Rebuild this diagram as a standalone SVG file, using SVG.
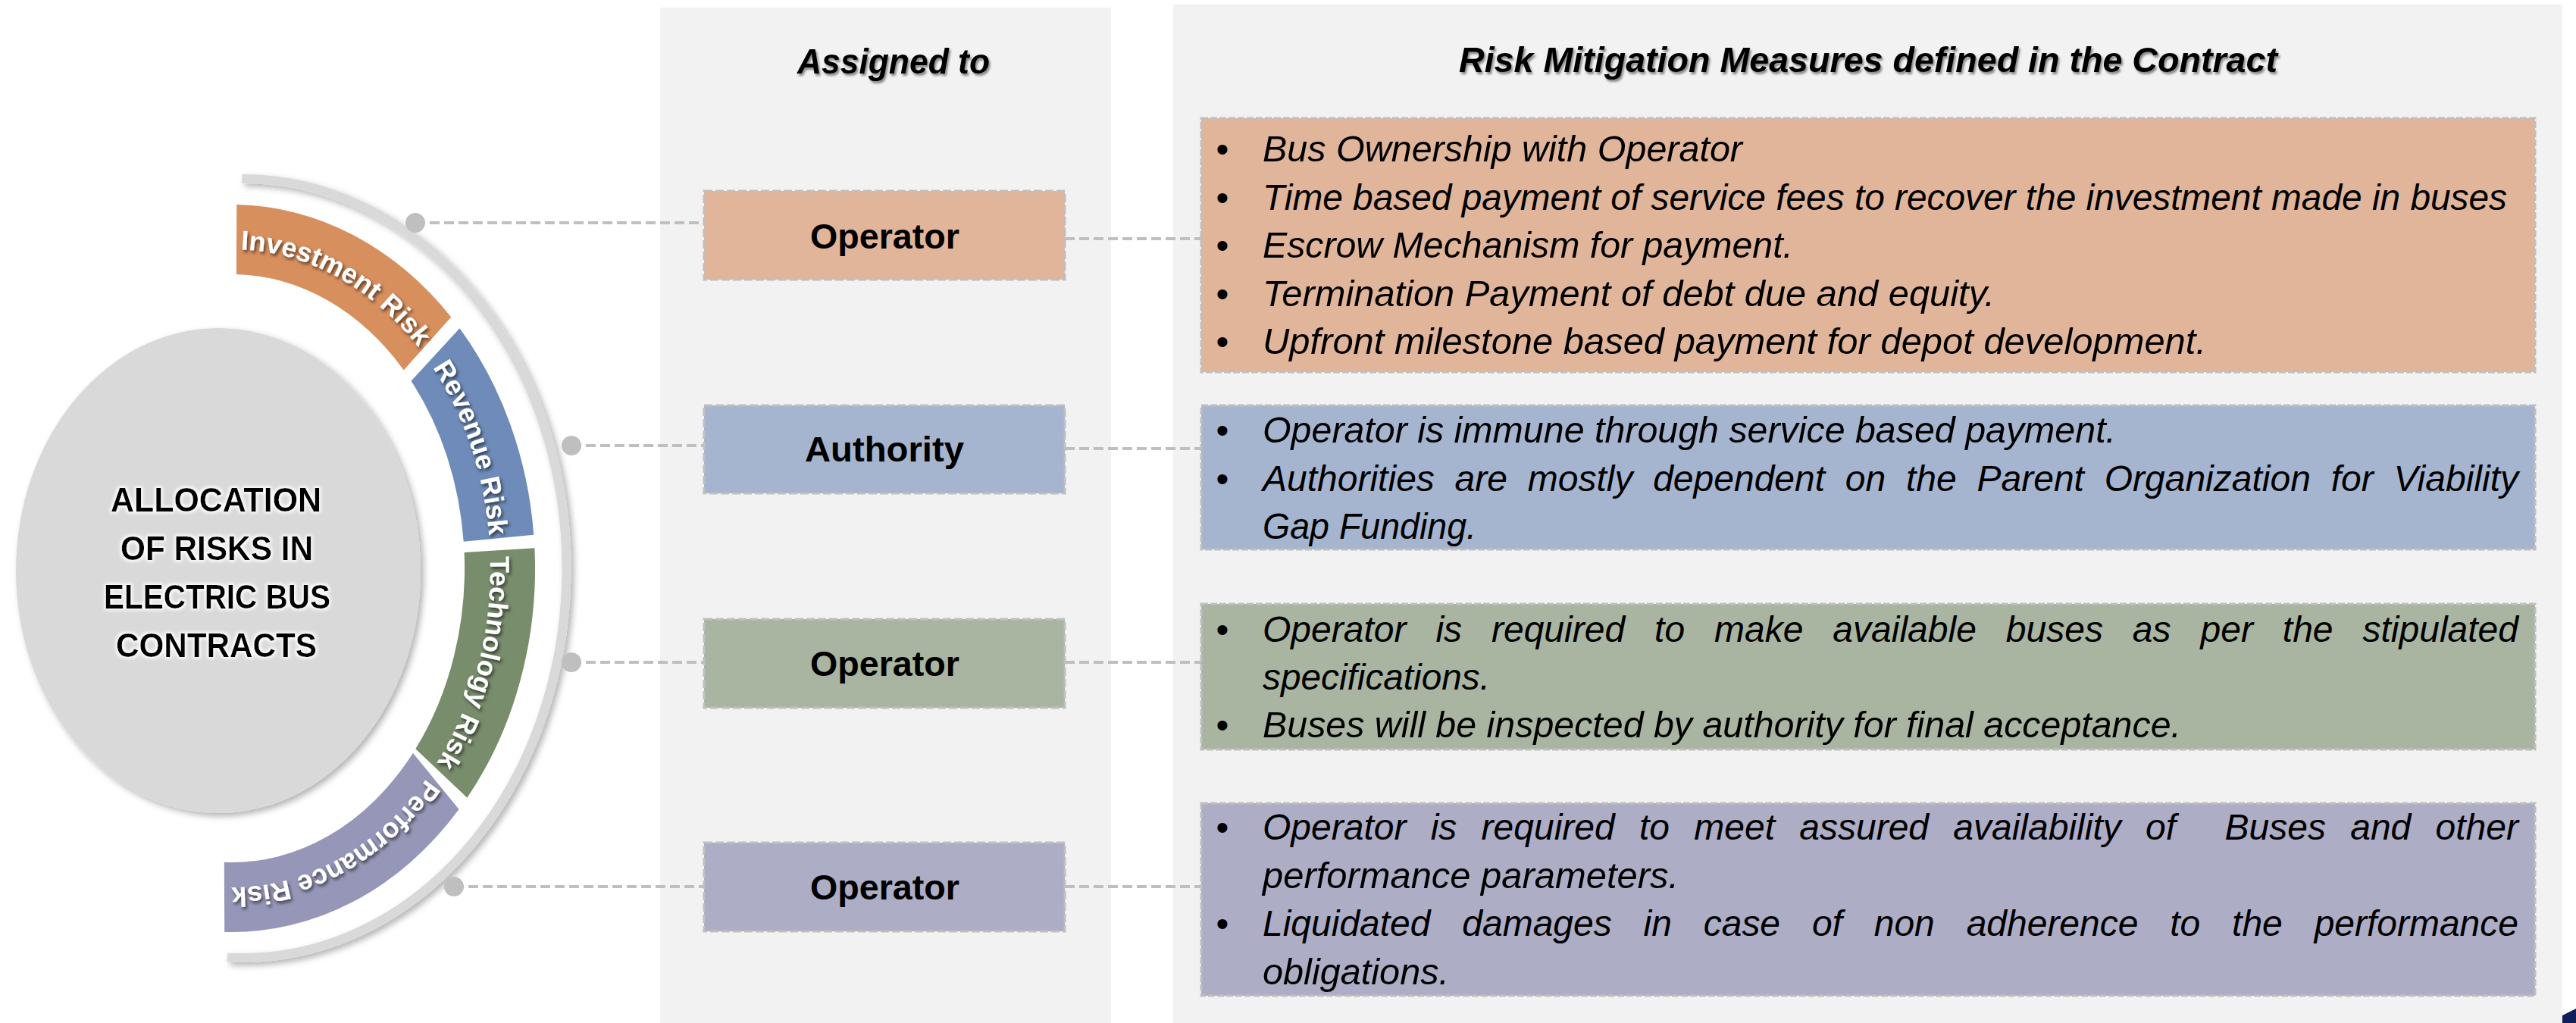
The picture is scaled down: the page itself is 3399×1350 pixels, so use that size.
<svg xmlns="http://www.w3.org/2000/svg" width="3399" height="1350" viewBox="0 0 3399 1350">
  <defs>
    <style>
      .panel { fill: #F2F2F2; }
      .abox { stroke: #BFBFBF; stroke-width: 3; stroke-dasharray: 11 4; }
      .mbox { stroke: #BFBFBF; stroke-width: 3; stroke-dasharray: 9 3; }
      .orange { fill: #E0B59A; }
      .blue { fill: #A5B4CF; }
      .green { fill: #A9B5A0; }
      .purple { fill: #ADADC6; }
      .lbl { font-family: "Liberation Sans", Arial, sans-serif; font-weight: bold; font-size: 47px; fill: #000; }
      .hdr { font-family: "Liberation Sans", Arial, sans-serif; font-weight: bold; font-style: italic; font-size: 46px; fill: #000; filter: url(#txtShadow); }
      .body { font-family: "Liberation Sans", Arial, sans-serif; font-style: italic; font-size: 48px; fill: #000; }
      .bul { font-family: "Liberation Sans", Arial, sans-serif; font-size: 48px; fill: #000; text-anchor: middle; }
      .conn { stroke: #BFBFBF; stroke-width: 4; stroke-dasharray: 13 6; fill: none; }
      .dot { fill: #BFBFBF; }
      .segtxt { font-family: "Liberation Sans", Arial, sans-serif; font-weight: bold; font-size: 36px; fill: #FFFFFF; filter: url(#segShadow); }
      .ctr { font-family: "Liberation Sans", Arial, sans-serif; font-weight: bold; font-size: 45px; fill: #000; filter: url(#glow); }
    </style>
    <filter id="softShadow" x="-15%" y="-15%" width="140%" height="140%">
      <feDropShadow dx="4" dy="4" stdDeviation="4" flood-color="#000" flood-opacity="0.3"/>
    </filter>
    <filter id="txtShadow" x="-5%" y="-30%" width="115%" height="170%">
      <feDropShadow dx="2" dy="3" stdDeviation="1.5" flood-color="#000" flood-opacity="0.45"/>
    </filter>
    <filter id="segShadow" x="-20%" y="-20%" width="140%" height="140%">
      <feDropShadow dx="2" dy="3" stdDeviation="2" flood-color="#000" flood-opacity="0.6"/>
    </filter>
    <filter id="glow" x="-10%" y="-30%" width="120%" height="160%">
      <feMorphology in="SourceAlpha" operator="dilate" radius="2" result="d"/>
      <feGaussianBlur in="d" stdDeviation="2" result="b"/>
      <feFlood flood-color="#FFFFFF"/>
      <feComposite in2="b" operator="in" result="w"/>
      <feMerge><feMergeNode in="w"/><feMergeNode in="SourceGraphic"/></feMerge>
    </filter>
    <!-- baselines for the curved segment labels (ellipse centre 306,750) -->
    <path id="p-inv" d="M312,329.1 A341,421 0 0,1 555.4,462.9"/>
    <path id="p-rev" d="M567.2,479.4 A341,421 0 0,1 645.7,713.3"/>
    <path id="p-tech" d="M646.5,728 A341,421 0 0,1 572.9,1012.1"/>
    <path id="p-perf" d="M567.2,1020.6 A341,421 0 0,1 297.1,1170.9"/>
  </defs>

  <rect width="3399" height="1350" fill="#FFFFFF"/>

  <!-- column panels -->
  <g id="panels">
    <rect class="panel" x="871" y="10" width="595" height="1340"/>
    <rect class="panel" x="1548" y="6" width="1833" height="1344"/>
    <polygon points="3381,1350 3381,1340 3399,1331 3399,1350" fill="#0E1F5B"/>
  </g>

  <!-- column headers -->
  <g id="headers">
    <text class="hdr" x="1052" y="97" textLength="254" lengthAdjust="spacingAndGlyphs">Assigned to</text>
    <text class="hdr" x="1925" y="95" textLength="1080" lengthAdjust="spacingAndGlyphs">Risk Mitigation Measures defined in the Contract</text>
  </g>

  <!-- outer gray arc -->
  <g id="outer-arc">
    <path d="M319.3,236 A427,514 0 1,1 299.9,1263.4" fill="none" stroke="#D9D9D9" stroke-width="12" filter="url(#softShadow)"/>
  </g>

  <!-- central topic -->
  <g id="topic">
    <ellipse cx="288" cy="753" rx="267" ry="320" fill="#D9D9D9" filter="url(#softShadow)"/>
    <text class="ctr" x="146" y="675" textLength="278" lengthAdjust="spacingAndGlyphs">ALLOCATION</text>
    <text class="ctr" x="159" y="739" textLength="254" lengthAdjust="spacingAndGlyphs">OF RISKS IN</text>
    <text class="ctr" x="137" y="803" textLength="299" lengthAdjust="spacingAndGlyphs">ELECTRIC BUS</text>
    <text class="ctr" x="153" y="867" textLength="265" lengthAdjust="spacingAndGlyphs">CONTRACTS</text>
  </g>

  <!-- risk segments -->
  <g id="seg-investment">
    <path d="M312.3,270.1 A400,480 0 0,1 595.2,418.4 L532.7,488.4 A307,388 0 0,0 311.9,362.1 Z" fill="#D88F5E"/>
    <text class="segtxt"><textPath href="#p-inv" startOffset="50%" text-anchor="middle">Investment Risk</textPath></text>
  </g>
  <g id="seg-revenue">
    <path d="M606.5,433.2 A400,480 0 0,1 704.3,705.7 L611.7,714.8 A307,388 0 0,0 542.5,502.7 Z" fill="#6E8BB9"/>
    <text class="segtxt"><textPath href="#p-rev" startOffset="50%" text-anchor="middle">Revenue Risk</textPath></text>
  </g>
  <g id="seg-technology">
    <path d="M705.4,723.2 A400,480 0 0,1 616.4,1052.7 L548.3,988.3 A307,388 0 0,0 612.6,729 Z" fill="#788D6C"/>
    <text class="segtxt"><textPath href="#p-tech" startOffset="50%" text-anchor="middle">Technology Risk</textPath></text>
  </g>
  <g id="seg-performance">
    <path d="M605.6,1068 A400,480 0 0,1 296.2,1229.9 L295.8,1137.8 A307,388 0 0,0 544.9,993.7 Z" fill="#9697B8"/>
    <text class="segtxt"><textPath href="#p-perf" startOffset="50%" text-anchor="middle">Performance Risk</textPath></text>
  </g>

  <!-- connectors -->
  <g id="connectors">
    <line class="conn" x1="548" y1="294" x2="929" y2="294"/>
    <line class="conn" x1="754" y1="588" x2="929" y2="588"/>
    <line class="conn" x1="754" y1="874" x2="929" y2="874"/>
    <line class="conn" x1="599" y1="1170" x2="929" y2="1170"/>
    <line class="conn" x1="1405" y1="315" x2="1585" y2="315"/>
    <line class="conn" x1="1405" y1="592" x2="1585" y2="592"/>
    <line class="conn" x1="1405" y1="874" x2="1585" y2="874"/>
    <line class="conn" x1="1405" y1="1170" x2="1585" y2="1170"/>
    <circle class="dot" cx="548" cy="294" r="13"/>
    <circle class="dot" cx="754" cy="588" r="13"/>
    <circle class="dot" cx="754" cy="874" r="13"/>
    <circle class="dot" cx="599" cy="1170" r="13"/>
  </g>

  <!-- assigned party -->
  <g id="assigned-investment">
    <rect class="abox orange" x="929" y="252" width="476" height="117"/>
    <text class="lbl" x="1069" y="328" textLength="197" lengthAdjust="spacingAndGlyphs">Operator</text>
  </g>
  <g id="assigned-revenue">
    <rect class="abox blue" x="929" y="535" width="476" height="116"/>
    <text class="lbl" x="1062" y="609" textLength="210" lengthAdjust="spacingAndGlyphs">Authority</text>
  </g>
  <g id="assigned-technology">
    <rect class="abox green" x="929" y="817" width="476" height="117"/>
    <text class="lbl" x="1069" y="892" textLength="197" lengthAdjust="spacingAndGlyphs">Operator</text>
  </g>
  <g id="assigned-performance">
    <rect class="abox purple" x="929" y="1112" width="476" height="117"/>
    <text class="lbl" x="1069" y="1187" textLength="197" lengthAdjust="spacingAndGlyphs">Operator</text>
  </g>

  <!-- mitigation measures -->
  <g id="measures-investment">
    <rect class="mbox orange" x="1585" y="156" width="1760" height="335"/>
    <text class="bul" x="1613" y="213">•</text>
    <text class="bul" x="1613" y="276.5">•</text>
    <text class="bul" x="1613" y="340">•</text>
    <text class="bul" x="1613" y="403.5">•</text>
    <text class="bul" x="1613" y="467">•</text>
    <text class="body" x="1666" y="213" textLength="633" lengthAdjust="spacingAndGlyphs">Bus Ownership with Operator</text>
    <text class="body" x="1666" y="276.5" textLength="1642" lengthAdjust="spacingAndGlyphs">Time based payment of service fees to recover the investment made in buses</text>
    <text class="body" x="1666" y="340" textLength="700" lengthAdjust="spacingAndGlyphs">Escrow Mechanism for payment.</text>
    <text class="body" x="1666" y="403.5" textLength="966" lengthAdjust="spacingAndGlyphs">Termination Payment of debt due and equity.</text>
    <text class="body" x="1666" y="467" textLength="1245" lengthAdjust="spacingAndGlyphs">Upfront milestone based payment for depot development.</text>
  </g>
  <g id="measures-revenue">
    <rect class="mbox blue" x="1585" y="535" width="1760" height="190"/>
    <text class="bul" x="1613" y="584">•</text>
    <text class="bul" x="1613" y="647.5">•</text>
    <text class="body" x="1666" y="584" textLength="1126" lengthAdjust="spacingAndGlyphs">Operator is immune through service based payment.</text>
    <text class="body" x="1666" y="647.5" word-spacing="13.4" textLength="1657" lengthAdjust="spacing">Authorities are mostly dependent on the Parent Organization for Viability</text>
    <text class="body" x="1666" y="711" textLength="282" lengthAdjust="spacingAndGlyphs">Gap Funding.</text>
  </g>
  <g id="measures-technology">
    <rect class="mbox green" x="1585" y="797" width="1760" height="192"/>
    <text class="bul" x="1613" y="847">•</text>
    <text class="bul" x="1613" y="973">•</text>
    <text class="body" x="1666" y="847" word-spacing="25.6" textLength="1657" lengthAdjust="spacing">Operator is required to make available buses as per the stipulated</text>
    <text class="body" x="1666" y="910" textLength="300" lengthAdjust="spacingAndGlyphs">specifications.</text>
    <text class="body" x="1666" y="973" textLength="1212" lengthAdjust="spacingAndGlyphs">Buses will be inspected by authority for final acceptance.</text>
  </g>
  <g id="measures-performance">
    <rect class="mbox purple" x="1585" y="1060" width="1760" height="254"/>
    <text class="bul" x="1613" y="1108">•</text>
    <text class="bul" x="1613" y="1235">•</text>
    <text class="body" x="1666" y="1108" word-spacing="18.9" textLength="1657" lengthAdjust="spacing" style="white-space:pre">Operator is required to meet assured availability of  Buses and other</text>
    <text class="body" x="1666" y="1171.5" textLength="549" lengthAdjust="spacingAndGlyphs">performance parameters.</text>
    <text class="body" x="1666" y="1235" word-spacing="28.5" textLength="1657" lengthAdjust="spacing">Liquidated damages in case of non adherence to the performance</text>
    <text class="body" x="1666" y="1298.5" textLength="246" lengthAdjust="spacingAndGlyphs">obligations.</text>
  </g>
</svg>
